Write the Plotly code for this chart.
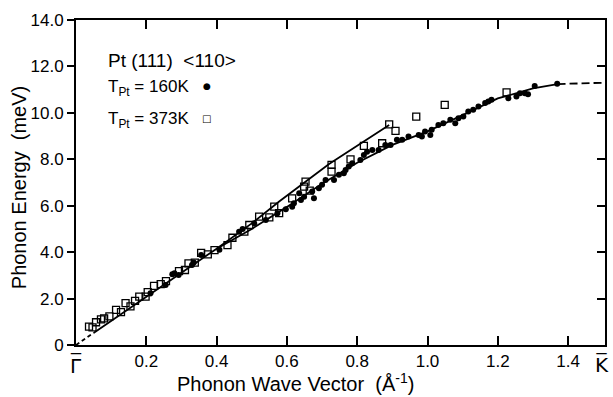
import plotly.graph_objects as go

# ---- data ----
q_160 = [0.212, 0.255, 0.274, 0.280, 0.292, 0.330, 0.335, 0.356, 0.408, 0.464, 0.474,
         0.507, 0.540, 0.573, 0.597, 0.615, 0.620, 0.640, 0.649, 0.635, 0.677, 0.672,
         0.691, 0.700, 0.710, 0.734, 0.748, 0.762, 0.767, 0.776, 0.786, 0.809, 0.819,
         0.828, 0.843, 0.861, 0.880, 0.895, 0.913, 0.928, 0.946, 0.975, 0.984, 0.993,
         1.008, 1.012, 1.031, 1.045, 1.065, 1.079, 1.088, 1.102, 1.116, 1.130, 1.145,
         1.164, 1.173, 1.182, 1.230, 1.253, 1.263, 1.277, 1.286, 1.305, 1.369]
E_160 = [2.23, 2.59, 3.05, 3.09, 3.02, 3.45, 3.55, 3.88, 4.10, 4.88, 5.00,
         5.24, 5.39, 5.68, 5.85, 5.96, 6.11, 6.25, 6.39, 6.54, 6.32, 6.61,
         6.75, 6.90, 7.11, 7.11, 7.33, 7.40, 7.54, 7.69, 7.83, 7.97, 8.19,
         8.33, 8.40, 8.40, 8.62, 8.62, 8.84, 8.84, 8.98, 9.05, 8.98, 9.20,
         9.05, 9.27, 9.48, 9.55, 9.70, 9.55, 9.77, 9.84, 10.06, 10.13, 10.27,
         10.42, 10.49, 10.56, 10.63, 10.70, 10.85, 10.85, 10.80, 11.16, 11.25]

q_373 = [0.037, 0.047, 0.057, 0.071, 0.080, 0.095, 0.114, 0.128, 0.141, 0.155, 0.168,
         0.180, 0.198, 0.204, 0.222, 0.241, 0.256, 0.293, 0.310, 0.320, 0.338, 0.356,
         0.375, 0.394, 0.431, 0.445, 0.479, 0.493, 0.521, 0.550, 0.564, 0.578, 0.615,
         0.649, 0.653, 0.665, 0.727, 0.727, 0.781, 0.819, 0.871, 0.891, 0.909, 0.968,
         1.049, 1.225]
E_373 = [0.79, 0.76, 0.98, 1.10, 1.15, 1.23, 1.51, 1.42, 1.80, 1.66, 1.90,
         2.08, 2.08, 2.28, 2.55, 2.62, 2.75, 3.18, 3.23, 3.52, 3.55, 3.97,
         3.90, 4.09, 4.30, 4.62, 4.88, 5.17, 5.53, 5.50, 5.96, 5.68, 6.32,
         6.82, 7.04, 6.65, 7.76, 7.47, 8.00, 8.58, 8.69, 9.50, 9.22, 9.84,
         10.34, 10.88]

# fitted curves
fit160_q = [0.05, 0.2, 0.4, 0.5, 0.6, 0.7, 0.8, 0.9, 1.0, 1.1, 1.2, 1.3, 1.37]
fit160_E = [0.52, 2.08, 4.15, 5.0, 5.95, 6.95, 7.85, 8.62, 9.2, 9.9, 10.62, 11.05, 11.24]
dash_lo_q = [0.0, 0.05]
dash_lo_E = [0.0, 0.52]
dash_hi_q = [1.37, 1.505]
dash_hi_E = [11.24, 11.30]
fit373_q = [0.40, 0.50, 0.578, 0.72, 0.891]
fit373_E = [4.15, 5.24, 6.18, 7.80, 9.48]

x_ticks = [0.2, 0.4, 0.6, 0.8, 1.0, 1.2, 1.4]
x_ticktext = ["0.2", "0.4", "0.6", "0.8", "1.0", "1.2", "1.4"]
y_ticks = [0, 2, 4, 6, 8, 10, 12, 14]
y_ticktext = ["0", "2.0", "4.0", "6.0", "8.0", "10.0", "12.0", "14.0"]
q_max = 1.505

FONT = "Liberation Sans"

fig = go.Figure()
line_style = dict(color="black", width=1.8)
fig.add_trace(go.Scatter(x=dash_lo_q, y=dash_lo_E, mode="lines",
                         line=dict(color="black", width=1.8, dash="4px,3px")))
fig.add_trace(go.Scatter(x=fit160_q, y=fit160_E, mode="lines", line=line_style))
fig.add_trace(go.Scatter(x=dash_hi_q, y=dash_hi_E, mode="lines",
                         line=dict(color="black", width=1.8, dash="8px,4px")))
fig.add_trace(go.Scatter(x=fit373_q, y=fit373_E, mode="lines", line=line_style))
fig.add_trace(go.Scatter(x=q_373, y=E_373, mode="markers",
                         marker=dict(symbol="square-open", size=7, color="black",
                                     line=dict(width=1.3, color="black"))))
fig.add_trace(go.Scatter(x=q_160, y=E_160, mode="markers",
                         marker=dict(symbol="circle", size=6, color="black")))
# helper for right-hand inner ticks
fig.add_trace(go.Scatter(x=[None], y=[None], yaxis="y2", mode="markers",
                         hoverinfo="skip"))

L, R, T, B = 76, 6, 20, 52
W, H = 613, 397
pw, ph = W - L - R, H - T - B


def px(xp):
    return (xp - L) / pw


def py(yp):
    return (H - B - yp) / ph


fig.update_layout(
    width=W, height=H, margin=dict(l=L, r=R, t=T, b=B),
    paper_bgcolor="white", plot_bgcolor="white", showlegend=False,
    font=dict(family=FONT, color="black"),
    xaxis=dict(range=[0, q_max], tickvals=x_ticks, ticktext=x_ticktext,
               ticks="inside", ticklen=9, tickwidth=1.5, tickcolor="black",
               showline=True, linecolor="black", linewidth=1.8, mirror="ticks",
               showgrid=False, zeroline=False,
               tickfont=dict(size=17, family=FONT)),
    yaxis=dict(range=[0, 14], tickvals=y_ticks, ticktext=y_ticktext,
               ticks="outside", ticklen=7, tickwidth=1.5, tickcolor="black",
               showline=True, linecolor="black", linewidth=1.8, mirror=True,
               showgrid=False, zeroline=False,
               tickfont=dict(size=17, family=FONT)),
    yaxis2=dict(range=[0, 14], tickvals=y_ticks, overlaying="y", side="right",
                ticks="inside", ticklen=8, tickwidth=1.5, tickcolor="black",
                showticklabels=False, showline=False, showgrid=False,
                zeroline=False),
)


def note(x, y, text, size, xanchor="center", xref="paper", angle=0, family=FONT):
    return dict(x=x, y=y, xref=xref, yref="paper", xanchor=xanchor,
                yanchor="middle", text=text, textangle=angle, showarrow=False,
                font=dict(size=size, family=family))


ann = [
    note(px(19), py(188), "Phonon Energy  (meV)", 20, angle=-90),
    note(px(296), py(382), "Phonon Wave Vector  (Å<sup>-1</sup>)", 20),
    note(0, py(366), "Γ", 20, xref="x", family="DejaVu Sans"),
    note(0, py(361), "‾", 20, xref="x", family="DejaVu Sans"),
    note(px(604), py(364), "K\u0305", 20, family="DejaVu Sans"),
    note(px(106), py(60), "Pt (111)  &lt;110&gt;", 19, xanchor="left"),
    note(px(106), py(88), "T<sub>Pt</sub> = 160K", 17, xanchor="left"),
    note(px(207), py(86), "●", 9, family="DejaVu Sans"),
    note(px(106), py(120), "T<sub>Pt</sub> = 373K", 17, xanchor="left"),
    note(px(207), py(118), "□", 10, family="DejaVu Sans"),
]
fig.update_layout(annotations=ann)

fig.write_html("out.html")
